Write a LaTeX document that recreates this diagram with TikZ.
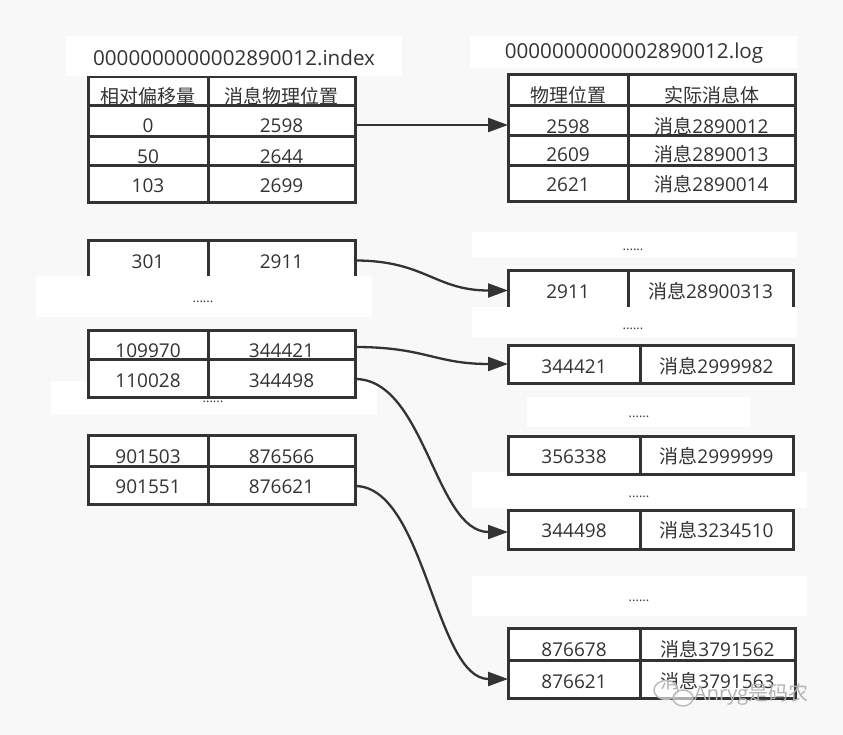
\documentclass[tikz,border=0pt]{standalone}
\usepackage{fontspec}
\setmainfont{Open Sans}
\newfontfamily\cjk{Noto Sans CJK SC}
\usetikzlibrary{arrows.meta}
\definecolor{ink}{HTML}{333333}
\definecolor{bg}{HTML}{F8F8F8}
\begin{document}
\begin{tikzpicture}[x=1pt,y=-1pt,
  cell/.style={draw=ink, fill=white, line width=3pt, inner sep=0pt, outer sep=0pt,
    font=\fontsize{19}{19}\selectfont, text=ink, text depth=0pt, text height=22pt},
  lo/.style={text height=16pt},
  md/.style={text height=19pt},
  hi/.style={text height=25pt},
  wbox/.style={fill=white, draw=none},
  dotsn/.style={font=\fontsize{13}{13}\selectfont, text=ink, inner sep=0pt},
  titlen/.style={font=\fontsize{20.6}{20.6}\selectfont, text=ink, inner sep=0pt},
  link/.style={draw=ink, line width=2.3pt, -{Triangle[length=20pt,width=14pt]}}
]
\useasboundingbox (0,0) rectangle (843,735);
\fill[bg] (0,0) rectangle (843,735);

% white strips lying under the tables
\fill[wbox] (470,36) rectangle (797,68);
\fill[wbox] (51,381) rectangle (377,414);
\fill[wbox] (472,232) rectangle (797,258);
\fill[wbox] (527,397) rectangle (750,427);
\fill[wbox] (472,472) rectangle (807,508);
\fill[wbox] (472,576) rectangle (807,616);

% index table
\node[cell, hi, minimum width=120pt, minimum height=29pt] (ih1) at (148,91.5) {\cjk 相对偏移量};
\node[cell, hi, minimum width=147pt, minimum height=29pt] (ih2) at (281.5,91.5) {\cjk 消息物理位置};
\node[cell, minimum width=120pt, minimum height=31pt] (i1a) at (148,121.5) {0};
\node[cell, minimum width=147pt, minimum height=31pt] (i1b) at (281.5,121.5) {2598};
\node[cell, hi, minimum width=120pt, minimum height=29pt] (i2a) at (148,151.5) {50};
\node[cell, hi, minimum width=147pt, minimum height=29pt] (i2b) at (281.5,151.5) {2644};
\node[cell, lo, minimum width=120pt, minimum height=37pt] (i3a) at (148,184.5) {103};
\node[cell, lo, minimum width=147pt, minimum height=37pt] (i3b) at (281.5,184.5) {2699};

\node[cell, lo, minimum width=120pt, minimum height=39pt] (i4a) at (148,260.5) {301};
\node[cell, lo, minimum width=147pt, minimum height=39pt] (i4b) at (281.5,260.5) {2911};

\node[cell, hi, minimum width=120pt, minimum height=29pt] (i5a) at (148,344.5) {109970};
\node[cell, hi, minimum width=147pt, minimum height=29pt] (i5b) at (281.5,344.5) {344421};
\node[cell, md, minimum width=120pt, minimum height=38pt] (i6a) at (148,378) {110028};
\node[cell, md, minimum width=147pt, minimum height=38pt] (i6b) at (281.5,378) {344498};

\node[cell, hi, minimum width=120pt, minimum height=31pt] (i7a) at (148,450.5) {901503};
\node[cell, hi, minimum width=147pt, minimum height=31pt] (i7b) at (281.5,450.5) {876566};
\node[cell, lo, minimum width=120pt, minimum height=38pt] (i8a) at (148,485) {901551};
\node[cell, lo, minimum width=147pt, minimum height=38pt] (i8b) at (281.5,485) {876621};

% log table
\node[cell, hi, minimum width=120pt, minimum height=31pt] (lh1) at (568,90.5) {\cjk 物理位置};
\node[cell, hi, minimum width=167pt, minimum height=31pt] (lh2) at (711.5,90.5) {\cjk 实际消息体};
\node[cell, hi, minimum width=120pt, minimum height=30pt] (l1a) at (568,121) {2598};
\node[cell, hi, minimum width=167pt, minimum height=30pt] (l1b) at (711.5,121) {{\cjk 消息}2890012};
\node[cell, minimum width=120pt, minimum height=30pt] (l2a) at (568,151) {2609};
\node[cell, minimum width=167pt, minimum height=30pt] (l2b) at (711.5,151) {{\cjk 消息}2890013};
\node[cell, lo, minimum width=120pt, minimum height=36pt] (l3a) at (568,184) {2621};
\node[cell, lo, minimum width=167pt, minimum height=36pt] (l3b) at (711.5,184) {{\cjk 消息}2890014};

\node[cell, lo, minimum width=120pt, minimum height=39pt] (l4a) at (568,290.5) {2911};
\node[cell, lo, minimum width=165pt, minimum height=39pt] (l4b) at (710.5,290.5) {{\cjk 消息}28900313};

\node[cell, md, minimum width=132pt, minimum height=38pt] (l5a) at (574,364) {344421};
\node[cell, md, minimum width=153pt, minimum height=38pt] (l5b) at (716.5,364) {{\cjk 消息}2999982};

\node[cell, lo, minimum width=132pt, minimum height=38pt] (l6a) at (574,455) {356338};
\node[cell, lo, minimum width=153pt, minimum height=38pt] (l6b) at (716.5,455) {{\cjk 消息}2999999};

\node[cell, lo, minimum width=132pt, minimum height=39pt] (l7a) at (574,529.5) {344498};
\node[cell, lo, minimum width=153pt, minimum height=39pt] (l7b) at (716.5,529.5) {{\cjk 消息}3234510};

\node[cell, hi, minimum width=132pt, minimum height=32pt] (l8a) at (574,644) {876678};
\node[cell, hi, minimum width=155pt, minimum height=32pt] (l8b) at (717.5,644) {{\cjk 消息}3791562};
\node[cell, md, minimum width=132pt, minimum height=38pt] (l9a) at (574,679) {876621};
\node[cell, md, minimum width=155pt, minimum height=38pt] (l9b) at (717.5,679) {{\cjk 消息}3791563};

% white strips lying over the tables
\fill[wbox] (66,36) rectangle (402,76);
\fill[wbox] (36,276) rectangle (372,317);
\fill[wbox] (472,307) rectangle (797,338);

% titles and ellipses
\node[titlen] (tidx) at (234,58) {0000000000002890012.index};
\node[titlen] (tlog) at (634,53) {0000000000002890012.log};
\node[dotsn] (d1) at (203,302) {......};
\node[dotsn] (d2) at (213,402) {......};
\node[dotsn] (d3) at (633,250) {......};
\node[dotsn] (d4) at (633,329) {......};
\node[dotsn] (d5) at (639,417) {......};
\node[dotsn] (d6) at (639,497) {......};
\node[dotsn] (d7) at (639,601) {......};

% connectors
\draw[link] ([yshift=-3.5pt]i1b.east) -- ([yshift=-3.5pt]i1b.east -| l1a.west);
\draw[link] (i4b.east) .. controls (425,260.5) and (435,290.5) .. (l4a.west);
\draw[link] ([yshift=-2.5pt]i5b.east) .. controls (425,347) and (435,364) .. (l5a.west);
\draw[link] ([yshift=-1pt]i6b.east) .. controls (425,379) and (435,532) .. ([yshift=-2.5pt]l7a.west);
\draw[link] ([yshift=-1pt]i8b.east) .. controls (425,486) and (435,679) .. (l9a.west);

% watermark
\draw[gray!55, line width=1.4pt, fill=white, fill opacity=0.6] (666,690) ellipse (12pt and 9.5pt);
\draw[gray!55, line width=1.4pt, fill=white, fill opacity=0.6] (683,698) ellipse (10pt and 8pt);
\node[font=\fontsize{20}{20}\selectfont, text=gray!60, inner sep=0pt, anchor=west] (wm) at (694,694) {Anryg{\cjk 是码农}};
\end{tikzpicture}
\end{document}
